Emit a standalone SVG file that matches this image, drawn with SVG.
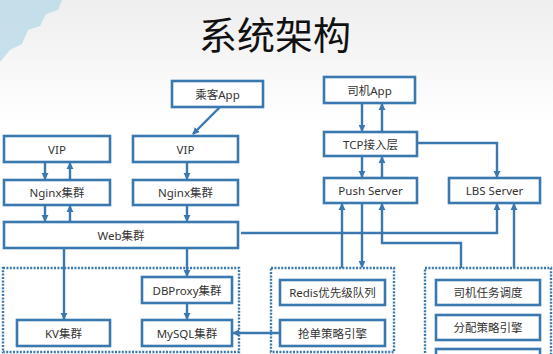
<svg xmlns="http://www.w3.org/2000/svg" width="553" height="354" viewBox="0 0 553 354">
<defs>
<linearGradient id="bg" x1="0" y1="0" x2="0" y2="1">
<stop offset="0" stop-color="#eeeeee"/>
<stop offset="0.35" stop-color="#ffffff"/>
<stop offset="1" stop-color="#ffffff"/>
</linearGradient>
<marker id="ah" viewBox="0 0 8 8" refX="7" refY="4" markerWidth="3" markerHeight="3" orient="auto" markerUnits="strokeWidth">
<path d="M0,0 L8,4 L0,8 Z" fill="#3a78b0"/>
</marker>
<style>
.box{fill:#ffffff;stroke:#3a78b0;stroke-width:2.6}
.grp{fill:none;stroke:#3a78b0;stroke-width:2.4;stroke-dasharray:2 1.4}
.t{font-family:"Noto Sans","Noto Sans CJK SC",sans-serif;font-size:11.5px;fill:#333333;text-anchor:middle;dominant-baseline:central}
.c{fill:none;stroke:#3a78b0;stroke-width:2.4;marker-end:url(#ah)}
.n{fill:none;stroke:#3a78b0;stroke-width:2.4}
</style>
</defs>
<rect width="553" height="354" fill="url(#bg)"/>
<g id="decor" fill="#a9d3e6" opacity="0.6">
<path d="M0,0 H62 L58,10 L46,14 L40,26 L28,30 L22,44 L10,50 L0,62 Z"/>
</g>
<text x="275" y="49" style="font-family:'Noto Sans CJK SC','Noto Sans',sans-serif;font-size:38px;fill:#111111;text-anchor:middle">系统架构</text>

<g id="groups">
<rect class="grp" x="3" y="268" width="236" height="84"/>
<rect class="grp" x="271" y="268" width="123" height="84"/>
<rect class="grp" x="425" y="268" width="126" height="95"/>
</g>

<g id="passenger-app"><rect class="box" x="172" y="81" width="91" height="26"/><text class="t" x="217.5" y="94">乘客App</text></g>
<g id="driver-app"><rect class="box" x="324" y="77" width="91" height="26"/><text class="t" x="369.5" y="90">司机App</text></g>
<g id="vip1"><rect class="box" x="4" y="136" width="106" height="26"/><text class="t" x="57" y="149">VIP</text></g>
<g id="vip2"><rect class="box" x="133" y="136" width="105" height="26"/><text class="t" x="185.5" y="149">VIP</text></g>
<g id="tcp"><rect class="box" x="324" y="132" width="93" height="24"/><text class="t" x="370.5" y="144">TCP接入层</text></g>
<g id="nginx1"><rect class="box" x="4" y="180" width="106" height="25"/><text class="t" x="57" y="192.5">Nginx集群</text></g>
<g id="nginx2"><rect class="box" x="133" y="180" width="105" height="25"/><text class="t" x="185.5" y="192.5">Nginx集群</text></g>
<g id="push"><rect class="box" x="324" y="178" width="93" height="25"/><text class="t" x="370.5" y="190.5">Push Server</text></g>
<g id="lbs"><rect class="box" x="449" y="178" width="91" height="25"/><text class="t" x="494.5" y="190.5">LBS Server</text></g>
<g id="web"><rect class="box" x="4" y="222" width="234" height="26"/><text class="t" x="121" y="235">Web集群</text></g>
<g id="dbproxy"><rect class="box" x="142" y="277" width="90" height="26"/><text class="t" x="187" y="290">DBProxy集群</text></g>
<g id="kv"><rect class="box" x="17" y="320" width="93" height="26"/><text class="t" x="63.5" y="333">KV集群</text></g>
<g id="mysql"><rect class="box" x="142" y="320" width="90" height="26"/><text class="t" x="187" y="333">MySQL集群</text></g>
<g id="redis"><rect class="box" x="280" y="280" width="105" height="25"/><text class="t" x="332.5" y="292.5">Redis优先级队列</text></g>
<g id="grab"><rect class="box" x="280" y="320" width="105" height="26"/><text class="t" x="332.5" y="333">抢单策略引擎</text></g>
<g id="dispatch"><rect class="box" x="436" y="280" width="104" height="25"/><text class="t" x="488" y="292.5">司机任务调度</text></g>
<g id="assign"><rect class="box" x="436" y="315" width="104" height="25"/><text class="t" x="488" y="327.5">分配策略引擎</text></g>
<g id="more"><rect class="box" x="436" y="349" width="104" height="25"/></g>

<g id="connectors">
<path class="c" d="M220,107 L193,134"/>
<path class="c" d="M362,103 V131"/>
<path class="c" d="M382,132 V104"/>
<path class="c" d="M362,156 V177"/>
<path class="c" d="M382,178 V157"/>
<path class="c" d="M417,143 H497 V177"/>
<path class="c" d="M45,162 V179"/>
<path class="c" d="M70,180 V163"/>
<path class="c" d="M45,205 V221"/>
<path class="c" d="M70,222 V206"/>
<path class="c" d="M187,162 V179"/>
<path class="c" d="M187,205 V221"/>
<path class="c" d="M241,233 H497 V204"/>
<path class="c" d="M342,268 V204"/>
<path class="c" d="M362,203 V267"/>
<path class="c" d="M461,268 V243 H382 V204"/>
<path class="c" d="M514,268 V204"/>
<path class="c" d="M64,248 V319"/>
<path class="c" d="M187,248 V276"/>
<path class="c" d="M187,303 V319"/>
<path class="c" d="M280,333 H233"/>
</g>
</svg>
